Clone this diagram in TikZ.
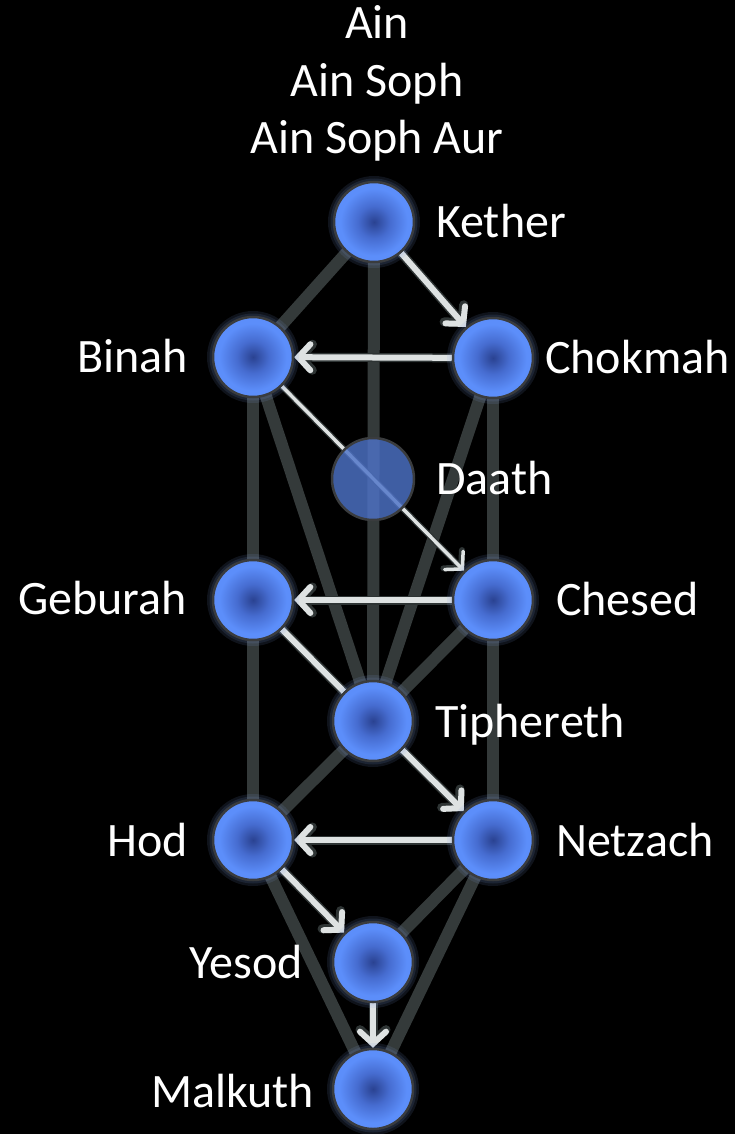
\documentclass[tikz,border=0pt]{standalone}
\usepackage{fontspec}
\setmainfont{Carlito}
\usetikzlibrary{arrows.meta}
\definecolor{pathc}{RGB}{52,58,58}
\definecolor{flash}{RGB}{222,226,226}
\definecolor{flashedge}{RGB}{46,52,52}
\definecolor{sephc}{RGB}{42,66,145}
\definecolor{sephm}{RGB}{70,108,208}
\definecolor{sephe}{RGB}{92,142,250}
\definecolor{rim}{RGB}{58,60,62}
\definecolor{glowc}{RGB}{130,160,225}
\definecolor{daathc}{RGB}{78,115,200}
\pgfdeclareradialshading{sephshade}{\pgfpoint{0bp}{0bp}}{color(0bp)=(sephc); color(10bp)=(sephm); color(21bp)=(sephe); color(25bp)=(sephe); color(50bp)=(sephe)}
\pgfdeclarelayer{bg}
\pgfdeclarelayer{lines}
\pgfdeclarelayer{glow}
\pgfsetlayers{bg,lines,glow,main}
\begin{document}
\begin{tikzpicture}[x=1pt,y=-1pt,
  seph/.style={circle, minimum size=80pt, inner sep=0pt, shading=sephshade, draw=rim, line width=2.5pt},
  daath/.style={circle, minimum size=82pt, inner sep=0pt, fill=daathc, fill opacity=0.82, draw=rim, draw opacity=1, line width=2.5pt},
  pathline/.style={draw=pathc, line width=12pt},
  lbl/.style={text=white, font=\fontsize{48}{58}\selectfont, inner sep=0pt},
  flashout/.style={draw=flashedge, line width=9pt, -{Straight Barb[length=12pt, width=26pt, line cap=round]}},
  flashin/.style={draw=flash, line width=6pt, -{Straight Barb[length=12pt, width=26pt, line cap=round]}},
  flashthinout/.style={draw=flashedge, line width=6pt, -{Straight Barb[length=12pt, width=26pt, line cap=round]}},
  flashthinin/.style={draw=flash, line width=3.5pt, -{Straight Barb[length=12pt, width=26pt, line cap=round]}},
  flashplainout/.style={draw=flashedge, line width=9pt},
  flashplainin/.style={draw=flash, line width=6pt},
  glowring/.style={fill=glowc, fill opacity=0.12}
]
\useasboundingbox (0,0) rectangle (735,1134);
\begin{pgfonlayer}{bg}
\fill[black] (0,0) rectangle (735,1134);
\end{pgfonlayer}

% title texts
\node[lbl, anchor=base] (ain) at (377,39) {Ain};
\node[lbl, anchor=base] (ainsoph) at (377,97) {Ain Soph};
\node[lbl, anchor=base] (ainsophaur) at (377,154) {Ain Soph Aur};

% sephiroth
\node[seph] (K) at (374,222) {};
\node[seph] (Ch) at (493,358) {};
\node[seph] (B) at (253,357) {};
\node[daath] (D) at (373,479) {};
\node[seph] (Cs) at (493,600) {};
\node[seph] (G) at (253,600) {};
\node[seph] (T) at (373,721) {};
\node[seph] (N) at (493,840) {};
\node[seph] (H) at (253,840) {};
\node[seph] (Y) at (373,962) {};
\node[seph] (M) at (373,1089) {};

% glow
\begin{pgfonlayer}{glow}
\foreach \s in {K,Ch,B,Cs,G,T,N,H,Y,M}{
  \fill[glowring] (\s.center) circle (46pt);
  \fill[glowring] (\s.center) circle (43.5pt);
}
\end{pgfonlayer}

% paths
\begin{pgfonlayer}{lines}
\draw[pathline] (K.center) -- (B.center);
\draw[pathline] (K.center) -- (T.center);
\draw[pathline] (B.center) -- (G.center);
\draw[pathline] (B.center) -- (T.center);
\draw[pathline] (Ch.center) -- (Cs.center);
\draw[pathline] (Ch.center) -- (T.center);
\draw[pathline] (Cs.center) -- (T.center);
\draw[pathline] (G.center) -- (H.center);
\draw[pathline] (Cs.center) -- (N.center);
\draw[pathline] (T.center) -- (H.center);
\draw[pathline] (N.center) -- (Y.center);
\draw[pathline] (H.center) -- (M.center);
\draw[pathline] (N.center) -- (M.center);

% lightning flash
\draw[flashout] (K) -- (Ch);
\draw[flashin] (K) -- (Ch);
\draw[flashout] (Ch) -- (B);
\draw[flashin] (Ch) -- (B);
\draw[flashthinout] (B) -- (Cs);
\draw[flashthinin] (B) -- (Cs);
\draw[flashout] (Cs) -- (G);
\draw[flashin] (Cs) -- (G);
\draw[flashplainout] (G) -- (T);
\draw[flashplainin] (G) -- (T);
\draw[flashout] (T) -- (N);
\draw[flashin] (T) -- (N);
\draw[flashout] (N) -- (H);
\draw[flashin] (N) -- (H);
\draw[flashout] (H) -- (Y);
\draw[flashin] (H) -- (Y);
\draw[flashout] (Y) -- (M);
\draw[flashin] (Y) -- (M);
\end{pgfonlayer}

% labels
\node[lbl, anchor=base west] (lK) at (436,237) {Kether};
\node[lbl, anchor=base west] (lCh) at (545,373) {Chokmah};
\node[lbl, anchor=base east] (lB) at (188,372) {Binah};
\node[lbl, anchor=base west] (lD) at (436,494) {Daath};
\node[lbl, anchor=base west] (lCs) at (556,615) {Chesed};
\node[lbl, anchor=base east] (lG) at (187,614) {Geburah};
\node[lbl, anchor=base west] (lT) at (435,737) {Tiphereth};
\node[lbl, anchor=base west] (lN) at (556,856) {Netzach};
\node[lbl, anchor=base east] (lH) at (188,856) {Hod};
\node[lbl, anchor=base east] (lY) at (303,978) {Yesod};
\node[lbl, anchor=base east] (lM) at (314,1107) {Malkuth};
\end{tikzpicture}
\end{document}
